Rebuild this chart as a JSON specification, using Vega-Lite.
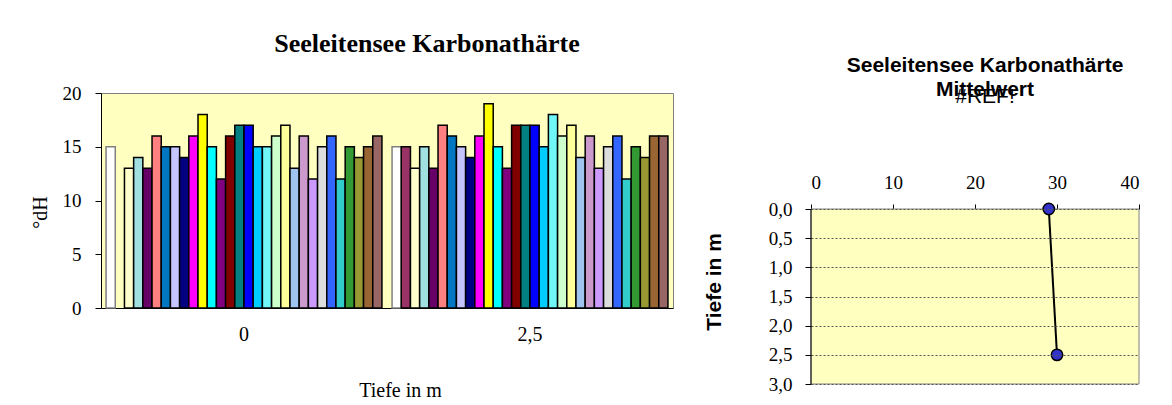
{
  "$schema": "https://vega.github.io/schema/vega-lite/v6.json",
  "background": "white",
  "padding": {"left": 29, "top": 30, "right": 0, "bottom": 0},
  "spacing": 29,
  "config": {
    "axis": {"labelColor": "black", "titleColor": "black", "domainColor": "black", "tickColor": "black", "domainWidth": 1, "tickWidth": 1},
    "title": {"color": "black", "subtitleColor": "black"}
  },
  "datasets": {
    "bars": [
      {"depth": "0", "series": "S01", "value": 15},
      {"depth": "0", "series": "S03", "value": 13},
      {"depth": "0", "series": "S04", "value": 14},
      {"depth": "0", "series": "S05", "value": 13},
      {"depth": "0", "series": "S06", "value": 16},
      {"depth": "0", "series": "S07", "value": 15},
      {"depth": "0", "series": "S08", "value": 15},
      {"depth": "0", "series": "S09", "value": 14},
      {"depth": "0", "series": "S10", "value": 16},
      {"depth": "0", "series": "S11", "value": 18},
      {"depth": "0", "series": "S12", "value": 15},
      {"depth": "0", "series": "S13", "value": 12},
      {"depth": "0", "series": "S14", "value": 16},
      {"depth": "0", "series": "S15", "value": 17},
      {"depth": "0", "series": "S16", "value": 17},
      {"depth": "0", "series": "S17", "value": 15},
      {"depth": "0", "series": "S18", "value": 15},
      {"depth": "0", "series": "S19", "value": 16},
      {"depth": "0", "series": "S20", "value": 17},
      {"depth": "0", "series": "S21", "value": 13},
      {"depth": "0", "series": "S22", "value": 16},
      {"depth": "0", "series": "S23", "value": 12},
      {"depth": "0", "series": "S24", "value": 15},
      {"depth": "0", "series": "S25", "value": 16},
      {"depth": "0", "series": "S26", "value": 12},
      {"depth": "0", "series": "S27", "value": 15},
      {"depth": "0", "series": "S28", "value": 14},
      {"depth": "0", "series": "S29", "value": 15},
      {"depth": "0", "series": "S30", "value": 16},
      {"depth": "2,5", "series": "S01", "value": 15},
      {"depth": "2,5", "series": "S02", "value": 15},
      {"depth": "2,5", "series": "S03", "value": 13},
      {"depth": "2,5", "series": "S04", "value": 15},
      {"depth": "2,5", "series": "S05", "value": 13},
      {"depth": "2,5", "series": "S06", "value": 17},
      {"depth": "2,5", "series": "S07", "value": 16},
      {"depth": "2,5", "series": "S08", "value": 15},
      {"depth": "2,5", "series": "S09", "value": 14},
      {"depth": "2,5", "series": "S10", "value": 16},
      {"depth": "2,5", "series": "S11", "value": 19},
      {"depth": "2,5", "series": "S12", "value": 15},
      {"depth": "2,5", "series": "S13", "value": 13},
      {"depth": "2,5", "series": "S14", "value": 17},
      {"depth": "2,5", "series": "S15", "value": 17},
      {"depth": "2,5", "series": "S16", "value": 17},
      {"depth": "2,5", "series": "S17", "value": 15},
      {"depth": "2,5", "series": "S18", "value": 18},
      {"depth": "2,5", "series": "S19", "value": 16},
      {"depth": "2,5", "series": "S20", "value": 17},
      {"depth": "2,5", "series": "S21", "value": 14},
      {"depth": "2,5", "series": "S22", "value": 16},
      {"depth": "2,5", "series": "S23", "value": 13},
      {"depth": "2,5", "series": "S24", "value": 15},
      {"depth": "2,5", "series": "S25", "value": 16},
      {"depth": "2,5", "series": "S26", "value": 12},
      {"depth": "2,5", "series": "S27", "value": 15},
      {"depth": "2,5", "series": "S28", "value": 14},
      {"depth": "2,5", "series": "S29", "value": 16},
      {"depth": "2,5", "series": "S30", "value": 16}
    ],
    "mean": [
      {"depth": 0, "value": 29},
      {"depth": 2.5, "value": 30}
    ],
    "frame": [
      {"x0": 0, "x1": 40, "y0": 0, "y1": 3}
    ]
  },
  "hconcat": [
    {
      "width": 572,
      "height": 215,
      "view": {"fill": "#FFFFC0", "stroke": "#808080", "strokeWidth": 1},
      "title": {"text": "Seeleitensee Karbonathärte", "font": "Liberation Serif", "fontSize": 26, "fontWeight": "bold", "anchor": "middle", "frame": "group", "dx": 40, "offset": 27},
      "data": {"name": "bars"},
      "mark": {"type": "bar", "strokeWidth": 1.5},
      "encoding": {
        "x": {
          "field": "depth", "type": "nominal", "sort": ["0", "2,5"],
          "scale": {"paddingInner": 0, "paddingOuter": 0},
          "axis": {"title": "Tiefe in m", "labelAngle": 0, "ticks": false, "labelPadding": 16, "titlePadding": 36, "labelFont": "Liberation Serif", "labelFontSize": 20, "titleFont": "Liberation Serif", "titleFontSize": 20, "titleFontWeight": "normal", "titleX": 299}
        },
        "xOffset": {
          "field": "series", "type": "nominal",
          "scale": {"domain": ["S01","S02","S03","S04","S05","S06","S07","S08","S09","S10","S11","S12","S13","S14","S15","S16","S17","S18","S19","S20","S21","S22","S23","S24","S25","S26","S27","S28","S29","S30"], "paddingInner": 0, "paddingOuter": 0.55}
        },
        "y": {
          "field": "value", "type": "quantitative",
          "scale": {"domain": [0, 20]},
          "axis": {"values": [0, 5, 10, 15, 20], "grid": false, "title": "°dH", "tickSize": 6, "labelPadding": 14, "labelFont": "Liberation Serif", "labelFontSize": 19, "titleFont": "Liberation Serif", "titleFontSize": 20, "titleFontWeight": "normal", "titlePadding": 12, "titleY": 119}
        },
        "color": {
          "field": "series", "type": "nominal", "legend": null,
          "scale": {
            "domain": ["S01","S02","S03","S04","S05","S06","S07","S08","S09","S10","S11","S12","S13","S14","S15","S16","S17","S18","S19","S20","S21","S22","S23","S24","S25","S26","S27","S28","S29","S30"],
            "range": ["#FFFFFF","#993366","#FFFFCC","#A0E0E0","#660066","#FF8080","#0077C0","#C4C4FF","#000080","#FF00FF","#FFFF00","#00FFFF","#800080","#800000","#008080","#0000FF","#00CCFF","#70F8F8","#CCFFCC","#FFFF99","#A0C4F0","#CC99CC","#CC99FF","#DDDDDD","#3366FF","#33CCCC","#339933","#999933","#996633","#996666"]
          }
        },
        "stroke": {"condition": {"test": "datum.series === 'S01'", "value": "#808080"}, "value": "black"}
      }
    },
    {
      "width": 328,
      "height": 291,
      "view": {"fill": null, "stroke": null},
      "title": {"text": ["Seeleitensee Karbonathärte", "Mittelwert"], "subtitle": "#REF!", "font": "Liberation Sans", "fontSize": 21, "fontWeight": "bold", "lineHeight": 24, "subtitleFont": "Liberation Sans", "subtitleFontSize": 21, "subtitleFontWeight": "normal", "subtitlePadding": -14, "anchor": "middle", "frame": "group", "dx": 10, "offset": -14},
      "layer": [
        {
          "data": {"name": "frame"},
          "mark": {"type": "rect", "fill": "#FFFFC0", "stroke": "#808080", "strokeWidth": 1},
          "encoding": {
            "x": {"field": "x0", "type": "quantitative", "scale": {"domain": [0, 40]}, "axis": {"orient": "top", "offset": -116, "values": [0, 10, 20, 30, 40], "grid": false, "title": null, "tickSize": 5, "labelPadding": 12, "labelFont": "Liberation Serif", "labelFontSize": 19}},
            "x2": {"field": "x1"},
            "y": {"field": "y0", "type": "quantitative", "scale": {"domain": [-1.989, 3], "reverse": true, "nice": false, "zero": false}, "axis": {"values": [0, 0.5, 1, 1.5, 2, 2.5, 3], "labelExpr": "replace(format(datum.value, '.1f'), '.', ',')", "domain": false, "zindex": 1, "grid": true, "gridDash": [2, 2], "gridColor": "#555555", "gridWidth": 1, "title": "Tiefe in m", "titleFont": "Liberation Sans", "titleFontSize": 21, "titleFontWeight": "bold", "titlePadding": 44, "titleY": 188.5, "tickSize": 6, "labelPadding": 13, "labelFont": "Liberation Serif", "labelFontSize": 19}},
            "y2": {"field": "y1"}
          }
        },
        {
          "data": {"name": "frame"},
          "mark": {"type": "rule", "color": "black", "strokeWidth": 1},
          "encoding": {
            "x": {"field": "x0", "type": "quantitative"},
            "y": {"field": "y0", "type": "quantitative"},
            "y2": {"field": "y1"}
          }
        },
        {
          "data": {"name": "mean"},
          "mark": {"type": "line", "color": "black", "strokeWidth": 2},
          "encoding": {
            "x": {"field": "value", "type": "quantitative"},
            "y": {"field": "depth", "type": "quantitative"},
            "order": {"field": "depth", "type": "quantitative"}
          }
        },
        {
          "data": {"name": "mean"},
          "mark": {"type": "circle", "color": "#3333CC", "opacity": 1, "stroke": "black", "strokeWidth": 1.5, "size": 130},
          "encoding": {
            "x": {"field": "value", "type": "quantitative"},
            "y": {"field": "depth", "type": "quantitative"}
          }
        }
      ]
    }
  ]
}
